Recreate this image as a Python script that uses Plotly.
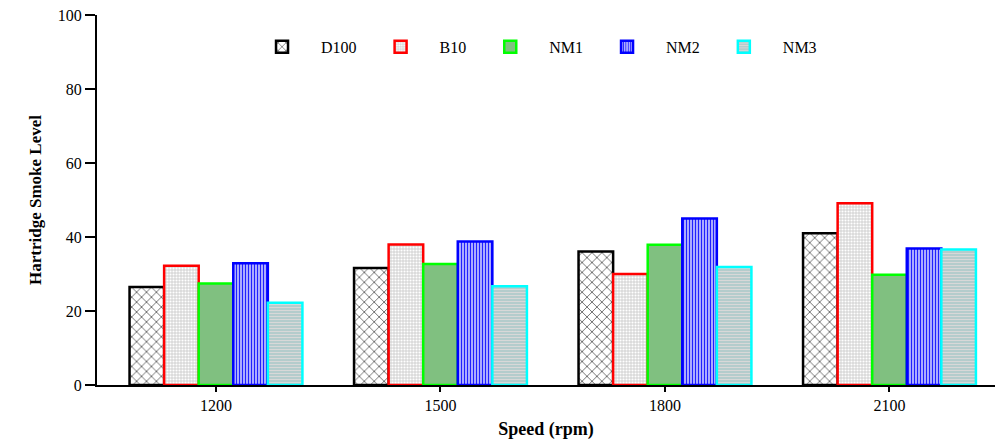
import plotly.graph_objects as go

speeds = ["1200", "1500", "1800", "2100"]
series_names = ["D100", "B10", "NM1", "NM2", "NM3"]
d100 = [26.5, 31.6, 36.1, 41.0]
b10 = [32.2, 38.0, 30.0, 49.1]
nm1 = [27.4, 32.7, 37.9, 29.8]
nm2 = [32.9, 38.8, 45.0, 36.9]
nm3 = [22.2, 26.7, 31.9, 36.6]
values = [d100, b10, nm1, nm2, nm3]

styles = [
    dict(line="#000000", bg="#ffffff", fg="#000000", shape="x", size=7, sol=0.15),
    dict(line="#ff0000", bg="#d9d9d9", fg="#ffffff", shape=".", size=3, sol=0.4),
    dict(line="#00ff00", bg="#80c080", fg="#80c080", shape="", size=8, sol=0.2),
    dict(line="#0000ff", bg="#c8c8ff", fg="#2020ff", shape="|", size=3, sol=0.45),
    dict(line="#00ffff", bg="#b4cccc", fg="#d8d8d8", shape="-", size=3, sol=0.35),
]

fig = go.Figure()
for name, vals, st in zip(series_names, values, styles):
    fig.add_trace(go.Bar(
        name=name, x=speeds, y=vals,
        marker=dict(
            color=st["bg"],
            line=dict(color=st["line"], width=2.5),
            pattern=dict(shape=st["shape"], fgcolor=st["fg"], bgcolor=st["bg"],
                         size=st["size"], solidity=st["sol"], fillmode="replace"),
        ),
    ))

font_family = "Liberation Serif"
fig.update_layout(
    width=997, height=440,
    margin=dict(l=97, r=2, t=15, b=55),
    paper_bgcolor="white", plot_bgcolor="white",
    barmode="group", bargap=0.23, bargroupgap=0.0,
    font=dict(family=font_family, size=15, color="black"),
    showlegend=True,
    legend=dict(orientation="h", x=0.485, xanchor="center", y=0.914, yanchor="middle",
                font=dict(family=font_family, size=16), itemwidth=68,
                bgcolor="rgba(0,0,0,0)", traceorder="normal"),
    xaxis=dict(
        type="category", range=[-0.53, 3.47],
        showline=True, linecolor="black", linewidth=2,
        ticks="outside", ticklen=5, tickwidth=2, tickcolor="black",
        tickfont=dict(family=font_family, size=16),
        title=dict(text="<b>Speed (rpm)</b>", font=dict(family=font_family, size=18), standoff=10),
        showgrid=False, zeroline=False,
    ),
    yaxis=dict(
        range=[0, 100], tickvals=[0, 20, 40, 60, 80, 100],
        showline=True, linecolor="black", linewidth=2,
        ticks="outside", ticklen=10, tickwidth=1.5, tickcolor="black",
        tickfont=dict(family=font_family, size=16),
        title=dict(text="<b>Hartridge Smoke Level</b>", font=dict(family=font_family, size=17), standoff=12),
        showgrid=False, zeroline=False,
    ),
)

fig.write_html("out.html")
